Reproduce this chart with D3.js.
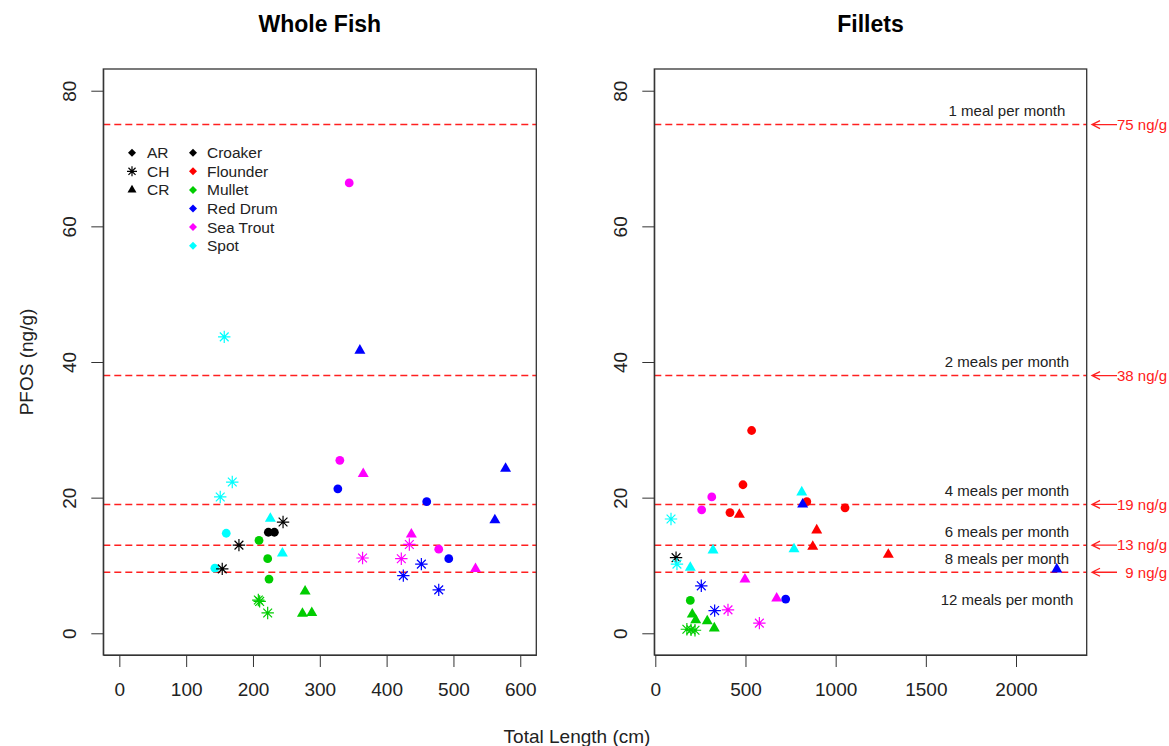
<!DOCTYPE html>
<html>
<head>
<meta charset="utf-8">
<script src="https://cdn.jsdelivr.net/npm/d3@7"></script>
<style>
  body { margin: 0; background: #fff; }
  svg { display: block; font-family: "Liberation Sans", Arial, sans-serif; }
</style>
</head>
<body>
<script>
// species / sites
const species = ["Croaker", "Flounder", "Mullet", "Red Drum", "Sea Trout", "Spot"];
const speciesColors = ["#000000", "#ff0000", "#00cd00", "#0000ff", "#ff00ff", "#00ffff"];
const sites = ["AR", "CH", "CR"];

// advisory levels
const thresholds = [75, 38, 19, 13, 9];
const thresholdLabels = ["75 ng/g", "38 ng/g", "19 ng/g", "13 ng/g", "9 ng/g"];
const mealLabels = ["1 meal per month", "2 meals per month", "4 meals per month",
  "6 meals per month", "8 meals per month", "12 meals per month"];
const mealLabelY = [77, 40, 21, 15, 11, 5];
const mealLabelX = 1950;

// ticks
const yTicks = [0, 20, 40, 60, 80];
const wholeTicks = [0, 100, 200, 300, 400, 500, 600];
const filletTicks = [0, 500, 1000, 1500, 2000];

// whole fish
const wholeSpecies = ["Sea Trout", "Spot", "Red Drum", "Sea Trout", "Sea Trout", "Red Drum", "Red Drum", "Red Drum",
  "Red Drum", "Spot", "Spot", "Spot", "Croaker", "Croaker", "Croaker", "Spot", "Mullet", "Croaker", "Spot", "Mullet",
  "Spot", "Croaker", "Mullet", "Mullet", "Mullet", "Mullet", "Mullet", "Mullet", "Mullet", "Sea Trout", "Sea Trout",
  "Sea Trout", "Red Drum", "Sea Trout", "Sea Trout", "Red Drum", "Red Drum", "Sea Trout", "Red Drum"];
const wholeSite = ["AR", "CH", "CR", "AR", "CR", "AR", "CR", "AR",
  "CR", "CH", "CH", "CR", "CH", "AR", "AR", "AR", "AR", "CH", "CR", "AR",
  "AR", "CH", "AR", "CR", "CH", "CH", "CH", "CR", "CR", "CR", "CH",
  "AR", "AR", "CH", "CH", "CH", "CH", "CR", "CH"];
const wholeLength = [344, 157, 360, 330, 365, 327, 578, 460,
  562, 169, 151, 226, 245, 223, 232, 160, 209, 179, 244, 222,
  143, 154, 224, 278, 208, 210, 222, 274, 288, 437, 434,
  478, 493, 364, 422, 452, 425, 533, 478];
const wholePfos = [66.4, 43.7, 41.7, 25.5, 23.5, 21.3, 24.3, 19.4,
  16.7, 22.3, 20.1, 16.9, 16.4, 14.9, 14.9, 14.75, 13.7, 13.0, 11.8, 11.0,
  9.6, 9.5, 8.0, 6.2, 4.9, 4.7, 3.0, 2.9, 3.0, 14.6, 13.1,
  12.4, 11.0, 11.1, 11.0, 10.2, 8.5, 9.5, 6.4];

// fillets
const filletSpecies = ["Flounder", "Flounder", "Spot", "Sea Trout", "Flounder", "Red Drum", "Flounder", "Sea Trout",
  "Flounder", "Flounder", "Spot", "Flounder", "Flounder", "Spot", "Spot", "Flounder", "Croaker", "Spot", "Spot",
  "Sea Trout", "Red Drum", "Mullet", "Sea Trout", "Red Drum", "Mullet", "Mullet", "Red Drum", "Sea Trout",
  "Mullet", "Mullet", "Mullet", "Mullet", "Mullet", "Sea Trout", "Red Drum"];
const filletSite = ["AR", "AR", "CR", "AR", "AR", "CR", "AR", "AR",
  "AR", "CR", "CH", "CR", "CR", "CR", "CR", "CR", "CH", "CH", "CR",
  "CR", "CH", "AR", "CR", "AR", "CR", "CR", "CH", "CH",
  "CR", "CR", "CH", "CH", "CH", "CH", "CR"];
const filletLength = [534, 486, 812, 313, 840, 817, 1052, 257,
  414, 466, 87, 895, 873, 320, 769, 1292, 115, 120, 194,
  497, 255, 194, 673, 723, 205, 224, 329, 403,
  288, 327, 175, 198, 220, 577, 2226];
const filletPfos = [29.9, 21.9, 20.8, 20.1, 19.4, 19.0, 18.5, 18.2,
  17.8, 17.5, 16.85, 15.2, 12.8, 12.25, 12.4, 11.6, 11.15, 10.2, 9.7,
  7.95, 7.0, 4.85, 5.15, 5.05, 2.8, 1.95, 3.35, 3.45,
  1.8, 0.75, 0.6, 0.5, 0.45, 1.5, 9.45];

const width = 1169;
const height = 746;
const plotTop = 69, plotBottom = 655;

const svg = d3.select("body").append("svg")
  .attr("width", width)
  .attr("height", height)
  .attr("viewBox", [0, 0, width, height]);

const y = d3.scaleLinear().domain([-3.2, 83.2]).range([plotBottom, plotTop]);
const color = d3.scaleOrdinal().domain(species).range(speciesColors);

function starPath(r) {
  const d = r * 0.7071;
  return `M${-r},0H${r}M0,${-r}V${r}M${-d},${-d}L${d},${d}M${-d},${d}L${d},${-d}`;
}
function trianglePath(s) {
  const h = s * 0.866;
  return `M0,${-h * 2 / 3}L${s / 2},${h / 3}L${-s / 2},${h / 3}Z`;
}
function diamondPath(r) {
  return `M0,${-r}L${r},0L0,${r}L${-r},0Z`;
}

function drawSymbol(g, site, col, big) {
  if (site === "AR") {
    if (big) g.append("circle").attr("r", 4.4).attr("fill", col);
    else g.append("path").attr("d", diamondPath(4)).attr("fill", col);
  } else if (site === "CH") {
    g.append("path").attr("d", starPath(big ? 6.2 : 5)).attr("fill", "none")
      .attr("stroke", col).attr("stroke-width", 1.2);
  } else {
    g.append("path").attr("d", trianglePath(big ? 11 : 9)).attr("fill", col);
  }
}

function panel(opts) {
  const x = d3.scaleLinear().domain(opts.domain).range([opts.left, opts.right]);
  const g = svg.append("g");

  // threshold lines
  g.selectAll("line.thr")
    .data(thresholds)
    .join("line")
    .attr("x1", opts.left).attr("x2", opts.right)
    .attr("y1", d => y(d)).attr("y2", d => y(d))
    .attr("stroke", "#ff2020")
    .attr("stroke-width", 1.5)
    .attr("stroke-dasharray", "7,4");

  // points
  const pts = opts.lengths.map((l, i) => ({len: l, pfos: opts.pfos[i], sp: opts.species[i], site: opts.site[i]}));
  pts.forEach(p => {
    const s = g.append("g").attr("transform", `translate(${x(p.len)},${y(p.pfos)})`);
    drawSymbol(s, p.site, color(p.sp), true);
  });

  // box
  g.append("rect")
    .attr("x", opts.left).attr("y", plotTop)
    .attr("width", opts.right - opts.left).attr("height", plotBottom - plotTop)
    .attr("fill", "none").attr("stroke", "#333").attr("stroke-width", 1.3);

  // axes
  const ya = g.append("g")
    .attr("transform", `translate(${opts.left},0)`)
    .call(d3.axisLeft(y).tickValues(yTicks).tickSize(12).tickSizeOuter(0));
  ya.select(".domain").attr("stroke", "#333");
  ya.selectAll(".tick line").attr("stroke", "#333");
  ya.selectAll(".tick text")
    .attr("transform", "rotate(-90)")
    .attr("x", 0).attr("y", -27).attr("dy", 0)
    .attr("text-anchor", "middle")
    .attr("font-size", 19).attr("fill", "#222")
    .attr("font-family", "Liberation Sans, Arial, sans-serif");

  const xa = g.append("g")
    .attr("transform", `translate(0,${plotBottom})`)
    .call(d3.axisBottom(x).tickValues(opts.ticks).tickFormat(d3.format("d"))
      .tickSize(12).tickPadding(16).tickSizeOuter(0));
  xa.select(".domain").attr("stroke", "#333");
  xa.selectAll(".tick line").attr("stroke", "#333");
  xa.selectAll(".tick text")
    .attr("font-size", 19).attr("fill", "#222")
    .attr("font-family", "Liberation Sans, Arial, sans-serif");

  // title
  svg.append("text")
    .attr("x", (opts.left + opts.right) / 2).attr("y", 32)
    .attr("text-anchor", "middle")
    .attr("font-size", 23).attr("font-weight", "bold")
    .text(opts.title);

  return x;
}

const xWhole = panel({
  left: 103.3, right: 536.3, domain: [-24, 624], ticks: wholeTicks, title: "Whole Fish",
  lengths: wholeLength, pfos: wholePfos, species: wholeSpecies, site: wholeSite
});
const xFillet = panel({
  left: 654.3, right: 1086.7, domain: [-5.6, 2392], ticks: filletTicks, title: "Fillets",
  lengths: filletLength, pfos: filletPfos, species: filletSpecies, site: filletSite
});

// meal labels
svg.append("g").selectAll("text")
  .data(mealLabels)
  .join("text")
  .attr("x", xFillet(mealLabelX))
  .attr("y", (d, i) => y(mealLabelY[i]))
  .attr("dy", "0.35em")
  .attr("text-anchor", "middle")
  .attr("font-size", 15).attr("fill", "#222")
  .text(d => d);

// arrows on the right margin
const arr = svg.append("g").attr("stroke", "#ff2020").attr("stroke-width", 1.3).attr("fill", "none");
thresholds.forEach((t, i) => {
  const yy = y(t);
  arr.append("path").attr("d", `M1117,${yy}H1092M1100,${yy - 4}L1092,${yy}L1100,${yy + 4}`);
  svg.append("text")
    .attr("x", 1167).attr("y", yy).attr("dy", "0.35em")
    .attr("text-anchor", "end")
    .attr("font-size", 15).attr("fill", "#ff2020")
    .text(thresholdLabels[i]);
});

// legend
const legend = svg.append("g").attr("font-size", 15.5).attr("fill", "#222");
sites.forEach((s, i) => {
  const yy = 152.7 + i * 18.6;
  drawSymbol(legend.append("g").attr("transform", `translate(132,${yy})`), s, "#000", false);
  legend.append("text").attr("x", 147).attr("y", yy).attr("dy", "0.35em").text(s);
});
species.forEach((s, i) => {
  const yy = 152.7 + i * 18.6;
  legend.append("path").attr("transform", `translate(193,${yy})`).attr("d", diamondPath(4)).attr("fill", color(s));
  legend.append("text").attr("x", 207).attr("y", yy).attr("dy", "0.35em").text(s);
});

// axis titles
svg.append("text")
  .attr("transform", `translate(33,${(plotTop + plotBottom) / 2}) rotate(-90)`)
  .attr("text-anchor", "middle")
  .attr("font-size", 19).attr("fill", "#222")
  .text("PFOS (ng/g)");
svg.append("text")
  .attr("x", 577).attr("y", 743)
  .attr("text-anchor", "middle")
  .attr("font-size", 19).attr("fill", "#222")
  .text("Total Length (cm)");
</script>
</body>
</html>
